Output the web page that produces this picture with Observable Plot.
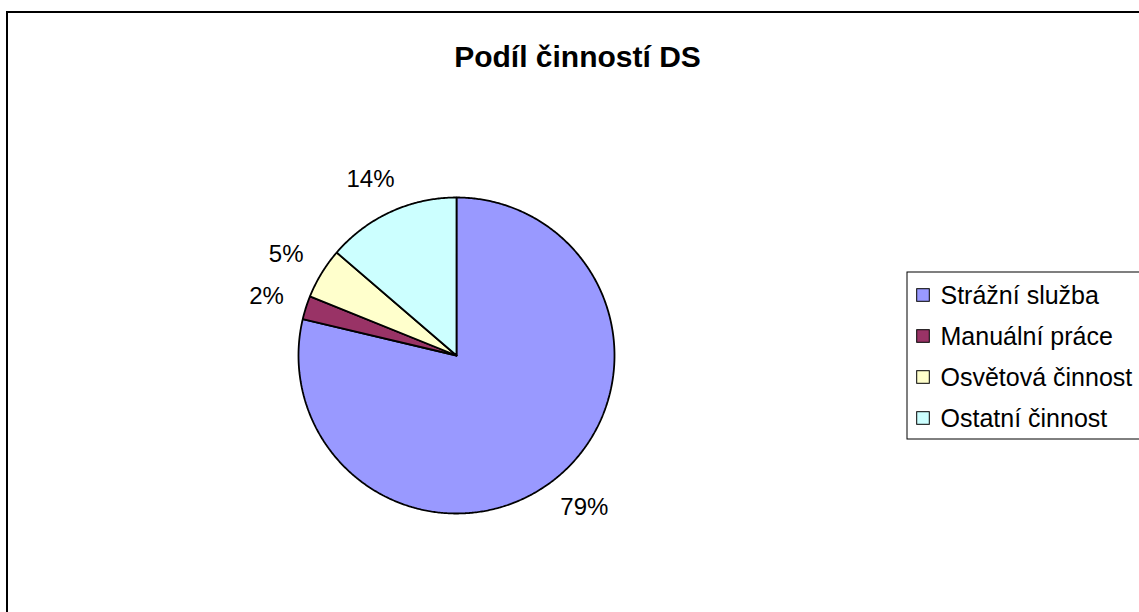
<!DOCTYPE html>
<html><head><meta charset="utf-8">
<script src="https://cdn.jsdelivr.net/npm/d3@7"></script>
<script src="https://cdn.jsdelivr.net/npm/@observablehq/plot@0.6"></script>
<style>html,body{margin:0;padding:0;background:#fff;overflow:hidden;font-family:"Liberation Sans",Arial,sans-serif}</style>
</head><body><div id="chart"></div>
<script>
const title = "Podíl činností DS";
const categories = ["Strážní služba", "Manuální práce", "Osvětová činnost", "Ostatní činnost"];
const values = [78.7, 2.4, 5.2, 13.7];
const colors = ["#9999FF", "#993366", "#FFFFCC", "#CCFFFF"];

const W = 1139, H = 612;
const cx = 456, cy = 355, r = 158;
const FONT = "Liberation Sans, Arial, sans-serif";
const labelSize = 24, legendSize = 25, titleSize = 30;

const total = d3.sum(values);
let acc = 0;
const slices = categories.map((c, i) => {
  const a0 = acc / total * 360; acc += values[i];
  const a1 = acc / total * 360;
  return {cat: c, a0, a1, pct: Math.round(values[i] / total * 100) + "%"};
});
const rad = d => d * Math.PI / 180;

// slice outlines sampled from angles derived from the values
const pts = [];
for (const s of slices) {
  pts.push({cat: s.cat, x: cx, y: cy});
  const n = Math.max(2, Math.ceil((s.a1 - s.a0) / 0.5));
  for (let k = 0; k <= n; k++) {
    const a = rad(s.a0 + (s.a1 - s.a0) * k / n);
    pts.push({cat: s.cat, x: cx + r * Math.sin(a), y: cy - r * Math.cos(a)});
  }
  pts.push({cat: s.cat, x: cx, y: cy});
}

// percentage labels outside the pie
const ctx = document.createElement("canvas").getContext("2d");
ctx.font = `${labelSize}px ${FONT}`;
const gap = 24;
const labels = slices.map(s => {
  const m = rad((s.a0 + s.a1) / 2);
  const w = ctx.measureText(s.pct).width, h = labelSize;
  const sx = Math.sin(m), cy_ = Math.cos(m);
  return {
    text: s.pct,
    x: cx + (r + gap) * sx + (w / 2) * sx,
    y: cy - (r + gap) * cy_ - (h / 2) * cy_
  };
});

// legend
const legTop = 295, legStep = 41, legSw = 923, legText = 940;
const legend = categories.map((c, i) => ({cat: c, y: legTop + i * legStep}));

const chart = Plot.plot({
  width: W, height: H,
  margin: 0,
  x: {type: "linear", domain: [0, W], range: [0, W], axis: null},
  y: {type: "linear", domain: [0, H], range: [0, H], axis: null},
  color: {type: "ordinal", domain: categories, range: colors},
  style: {fontFamily: FONT, background: "white", overflow: "hidden"},
  marks: [
    // outer chart border
    Plot.rect([{}], {x1: () => 7, y1: () => 12, x2: () => W + 20, y2: () => H + 20, fill: "none", stroke: "black", strokeWidth: 2}),
    // title
    Plot.text([title], {x: () => 577, y: () => 57, text: d => d, fontSize: titleSize, fontWeight: "bold", textAnchor: "middle", lineAnchor: "middle", fill: "black"}),
    // pie slices
    Plot.line(pts, {x: "x", y: "y", z: "cat", fill: "cat", stroke: "black", strokeWidth: 1.8, strokeLinejoin: "miter", curve: "linear"}),
    // percentage labels
    Plot.text(labels, {x: "x", y: "y", text: "text", fontSize: labelSize, textAnchor: "middle", lineAnchor: "middle", fill: "black"}),
    // legend box
    Plot.rect([{}], {x1: () => 907, y1: () => 272, x2: () => W + 20, y2: () => 439, fill: "white", stroke: "black", strokeWidth: 1}),
    Plot.rect(legend, {x1: d => legSw - 6.3, x2: d => legSw + 6.3, y1: d => d.y - 6.3, y2: d => d.y + 6.3, fill: "cat", stroke: "black", strokeWidth: 1}),
    Plot.text(legend, {x: () => legText, y: "y", text: "cat", fontSize: legendSize, textAnchor: "start", lineAnchor: "middle", fill: "black"})
  ]
});
document.getElementById("chart").appendChild(chart);
</script>
</body></html>
